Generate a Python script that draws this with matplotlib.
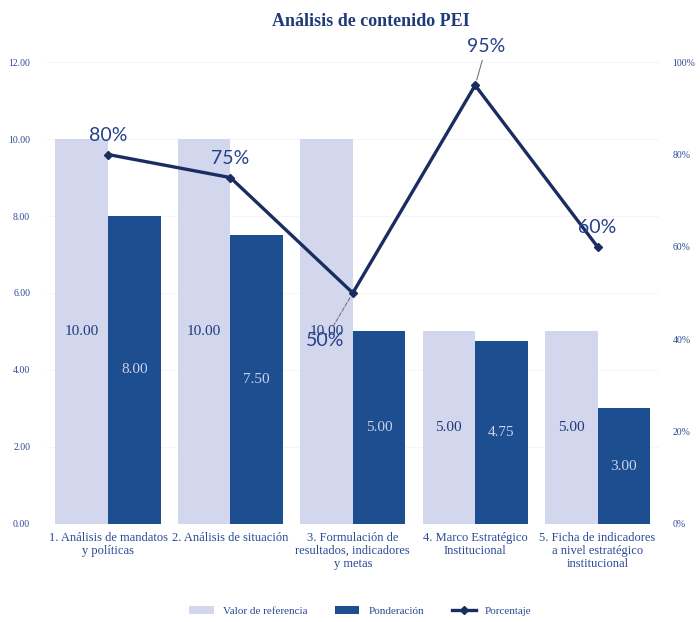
import numpy as np
import matplotlib.pyplot as plt
from matplotlib.ticker import PercentFormatter

# datos del grafico
categorias = ["1. Análisis de mandatos\ny políticas",
              "2. Análisis de situación",
              "3. Formulación de\nresultados, indicadores\ny metas",
              "4. Marco Estratégico\nInstitucional",
              "5. Ficha de indicadores\na nivel estratégico\ninstitucional"]
referencia = [10.00, 10.00, 10.00, 5.00, 5.00]
ponderacion = [8.00, 7.50, 5.00, 4.75, 3.00]
porcentaje = [0.80, 0.75, 0.50, 0.95, 0.60]

c_claro = "#d3d7ee"
c_oscuro = "#1d4e8f"
c_linea = "#1b2d60"
c_texto = "#2b4a96"
serif = "Liberation Serif"

fig = plt.figure(figsize=(7, 6.22), dpi=100)
ax = fig.add_axes([0.067, 0.158, 0.874, 0.742])
x = np.arange(len(categorias))
w = 0.43

b1 = ax.bar(x - w/2, referencia, w, color=c_claro, label="Valor de referencia", zorder=2)
b2 = ax.bar(x + w/2, ponderacion, w, color=c_oscuro, label="Ponderación", zorder=2)

for r, v in zip(b1, referencia):
    ax.text(r.get_x() + r.get_width()/2, v/2, "%.2f" % v, ha="center", va="center",
            fontsize=11, family=serif, color="#1f3a78", zorder=3)
for r, v in zip(b2, ponderacion):
    ax.text(r.get_x() + r.get_width()/2, v/2, "%.2f" % v, ha="center", va="center",
            fontsize=11, family=serif, color="#c9d2ee", zorder=3)

ax.set_xlim(-0.5, len(categorias) - 0.5)
ax.set_ylim(0, 12)
ax.set_yticks(np.arange(0, 13, 2))
ax.set_yticklabels(["%.2f" % t for t in np.arange(0, 13, 2)])
ax.set_xticks(x)
ax.set_xticklabels(categorias, family=serif, fontsize=9, color=c_texto, linespacing=1.1)
ax.tick_params(axis="y", length=0, labelsize=7, labelcolor=c_texto, pad=12)
ax.tick_params(axis="x", length=0, pad=6)
for lbl in ax.get_yticklabels():
    lbl.set_family(serif)
ax.grid(axis="y", color="#f6f6f9", lw=0.8, zorder=0)
for s in ax.spines.values():
    s.set_visible(False)

ax2 = ax.twinx()
ln, = ax2.plot(x, porcentaje, color=c_linea, lw=2.4, marker="D", ms=4,
               label="Porcentaje", zorder=5)
ax2.set_ylim(0, 1.0)
ax2.set_yticks(np.arange(0, 1.01, 0.2))
ax2.yaxis.set_major_formatter(PercentFormatter(1.0, decimals=0))
ax2.tick_params(axis="y", length=0, labelsize=7, labelcolor=c_texto, pad=10)
for lbl in ax2.get_yticklabels():
    lbl.set_family(serif)
for s in ax2.spines.values():
    s.set_visible(False)

offs = [(0, 14), (0, 14), (-20, -34), (8, 28), (0, 14)]
for i, (p, o) in enumerate(zip(porcentaje, offs)):
    if i in (2, 3):
        ax2.annotate("%d%%" % round(p*100), (x[i], p), xytext=o, textcoords="offset points",
                     ha="center", va="center", fontsize=14, family="Lato", color="#27408a",
                     arrowprops=dict(arrowstyle="-", color="#777777", lw=0.8,
                                     ls="--" if i == 2 else "-", shrinkA=2, shrinkB=4),
                     zorder=6)
    else:
        ax2.annotate("%d%%" % round(p*100), (x[i], p), xytext=o, textcoords="offset points",
                     ha="center", va="center", fontsize=14, family="Lato", color="#27408a",
                     zorder=6)

fig.text(0.53, 0.965, "Análisis de contenido PEI", ha="center", va="center",
         fontsize=13, fontweight="bold", family=serif, color="#1f3a78")

h = [b1, b2, ln]
leg = fig.legend(h, [a.get_label() for a in h], loc="center", bbox_to_anchor=(0.515, 0.018),
                 ncol=3, frameon=False, fontsize=8, handlelength=2.2, columnspacing=2.5,
                 prop={"family": serif, "size": 8})
for t in leg.get_texts():
    t.set_color(c_texto)

fig.savefig("out.png", dpi=100)
